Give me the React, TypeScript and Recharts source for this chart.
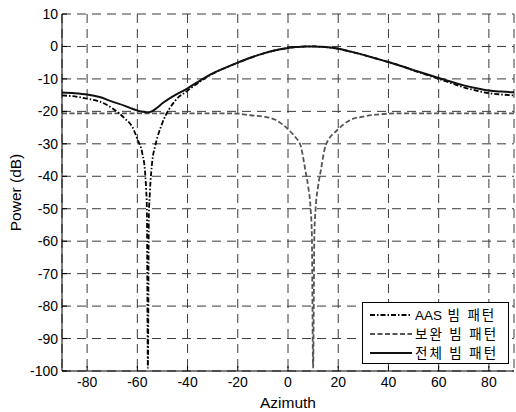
import React from 'react';
import { LineChart, Line, XAxis, YAxis, CartesianGrid, Legend, Label } from 'recharts';

const azimuth = [-90, -85, -80, -75, -70, -65, -62, -60, -58, -57, -56.5, -56.2, -55.8, -55.4, -55, -54, -53, -52, -50, -45, -40, -35, -30, -25, -20, -15, -10, -5, 0, 3, 5, 7, 8, 9, 9.5, 10, 10.5, 11, 12, 13, 15, 20, 25, 30, 35, 40, 45, 50, 55, 60, 65, 70, 75, 80, 85, 90];

const aasPattern = [-15.1, -15.4, -16.1, -17.0, -19.0, -22.2, -24.8, -28.5, -33.0, -38.0, -44.0, -50.0, -99.0, -52.0, -45.0, -35.0, -31.0, -28.0, -23.5, -16.8, -13.6, -10.8, -8.4, -6.6, -5.0, -3.5, -2.2, -1.2, -0.5, -0.2, -0.1, 0, 0, 0, 0, 0, 0, 0, -0.1, -0.1, -0.2, -0.7, -1.6, -2.6, -3.7, -4.8, -6.0, -7.4, -8.7, -10.0, -11.3, -12.6, -13.6, -14.4, -14.8, -15.1];

const compPattern = [-20.6, -20.6, -20.6, -20.6, -20.6, -20.6, -20.6, -20.6, -20.6, -20.6, -20.6, -20.6, -20.6, -20.6, -20.6, -20.6, -20.6, -20.6, -20.6, -20.6, -20.6, -20.6, -20.6, -20.6, -20.7, -21.2, -21.6, -22.6, -25.5, -28.0, -30.5, -38.5, -43.0, -50.0, -58.0, -99.0, -58.0, -50.0, -43.0, -38.5, -30.5, -25.5, -22.6, -21.6, -21.0, -20.7, -20.6, -20.6, -20.6, -20.6, -20.6, -20.6, -20.6, -20.6, -20.6, -20.6];

const totalPattern = [-14.2, -14.4, -14.8, -15.6, -17.0, -18.3, -19.2, -19.7, -20.1, -20.2, -20.3, -20.3, -20.3, -20.3, -20.2, -19.9, -19.4, -18.8, -17.5, -15.0, -12.9, -10.5, -8.3, -6.6, -5.0, -3.5, -2.2, -1.2, -0.5, -0.2, -0.1, 0, 0, 0, 0, 0, 0, 0, -0.1, -0.1, -0.2, -0.7, -1.6, -2.6, -3.7, -4.8, -6.0, -7.3, -8.5, -9.7, -10.9, -12.0, -12.9, -13.6, -13.9, -14.1];

const xTicks = [-80, -60, -40, -20, 0, 20, 40, 60, 80];
const yTicks = [-100, -90, -80, -70, -60, -50, -40, -30, -20, -10, 0, 10];

const seriesNames = ['AAS 빔 패턴', '보완 빔 패턴', '전체 빔 패턴'];

const data = azimuth.map((a, i) => ({
  az: a,
  aas: aasPattern[i],
  comp: compPattern[i],
  total: totalPattern[i],
}));

const FONT = '"Liberation Sans", Arial, "Noto Sans CJK KR", sans-serif';

const legendItems = [
  { name: seriesNames[0], color: '#000', dash: '5 2 1.5 2', width: 1.8 },
  { name: seriesNames[1], color: '#555', dash: '5 2.5', width: 1.8 },
  { name: seriesNames[2], color: '#111', dash: undefined as string | undefined, width: 2 },
];

const XTick = (p: any) => (
  <g>
    <line x1={p.x} x2={p.x} y1={p.y - 4} y2={p.y - 9} stroke="#000" strokeWidth={1} />
    <text x={p.x} y={p.y} dy={12} textAnchor="middle" fontSize={14} fontFamily={FONT} fill="#000">
      {p.payload.value}
    </text>
  </g>
);

const YTick = (p: any) => (
  <g>
    <line x1={p.x + 4} x2={p.x + 9} y1={p.y} y2={p.y} stroke="#000" strokeWidth={1} />
    <text x={p.x} y={p.y} dy="0.36em" textAnchor="end" fontSize={14} fontFamily={FONT} fill="#000">
      {p.payload.value}
    </text>
  </g>
);

const isHangul = (s: string) => /[\uAC00-\uD7A3]/.test(s);

const LegendBox = () => (
  <div
    style={{
      width: 147,
      height: 62,
      boxSizing: 'border-box',
      border: '1px solid #000',
      background: '#fff',
    }}
  >
    <svg width={145} height={60} style={{ display: 'block' }}>
      {legendItems.map((it, i) => {
        const cy = 12 + i * 19;
        const words = it.name.split(' ');
        return (
          <g key={it.name}>
            <line x1={7} x2={49} y1={cy} y2={cy} stroke={it.color} strokeWidth={it.width} strokeDasharray={it.dash} />
            <text x={52} y={cy} dy="0.36em" fontSize={13.5} fontFamily={FONT} fill="#000">
              {words.map((w, j) => (
                <tspan key={j} dx={j === 0 ? 0 : 5.5} letterSpacing={isHangul(w) ? 2 : 0}>
                  {w}
                </tspan>
              ))}
            </text>
          </g>
        );
      })}
    </svg>
  </div>
);

export default function App() {
  return (
    <div style={{ position: 'absolute', left: 0, top: 0, width: 516, height: 412, background: '#fff' }}>
      <LineChart width={516} height={412} data={data} margin={{ top: 14, right: 2, bottom: 0, left: 0 }}>
        <CartesianGrid stroke="#3a3a3a" strokeDasharray="9 6" strokeWidth={1} />
        <XAxis
          dataKey="az"
          type="number"
          domain={[-90, 90]}
          ticks={xTicks}
          height={41}
          tickSize={0}
          tickMargin={4}
          axisLine={{ stroke: '#000', strokeWidth: 1 }}
          tickLine={false}
          tick={<XTick />}
          allowDataOverflow
        >
          <Label value="Azimuth" position="insideBottom" offset={4} fontSize={15.5} fontFamily={FONT} fill="#000" />
        </XAxis>
        <YAxis
          type="number"
          domain={[-100, 10]}
          ticks={yTicks}
          width={62}
          tickSize={0}
          tickMargin={4}
          axisLine={{ stroke: '#000', strokeWidth: 1 }}
          tickLine={false}
          tick={<YTick />}
          allowDataOverflow
        >
          <Label
            content={() => (
              <text
                x={21}
                y={192.5}
                transform="rotate(-90 21 192.5)"
                textAnchor="middle"
                fontSize={15.5}
                fontFamily={FONT}
                fill="#000"
              >
                Power (dB)
              </text>
            )}
          />
        </YAxis>
        <Line
          dataKey="comp"
          name={seriesNames[1]}
          type="monotoneX"
          stroke="#555"
          strokeWidth={1.8}
          strokeDasharray="5 2.5"
          dot={false}
          isAnimationActive={false}
        />
        <Line
          dataKey="aas"
          name={seriesNames[0]}
          type="monotoneX"
          stroke="#000"
          strokeWidth={1.8}
          strokeDasharray="5 2 1.5 2"
          dot={false}
          isAnimationActive={false}
        />
        <Line
          dataKey="total"
          name={seriesNames[2]}
          type="monotoneX"
          stroke="#111"
          strokeWidth={2}
          dot={false}
          isAnimationActive={false}
        />
        <Legend
          layout="vertical"
          align="center"
          verticalAlign="middle"
          content={<LegendBox />}
          wrapperStyle={{ left: 362, top: 302, width: 147, height: 62 }}
        />
      </LineChart>
    </div>
  );
}
